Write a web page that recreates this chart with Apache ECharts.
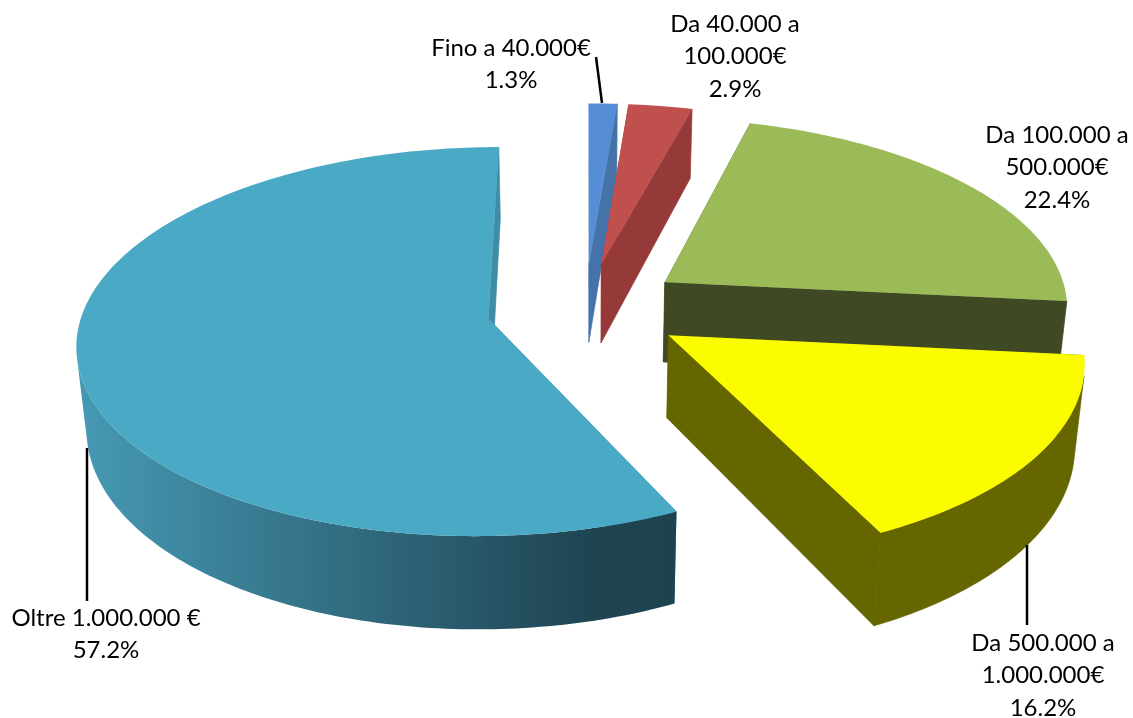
<!DOCTYPE html>
<html>
<head>
<meta charset="utf-8">
<title>Fasce di importo</title>
<style>
  html, body { margin: 0; padding: 0; background: #fff; }
  #main { width: 1133px; height: 718px; }
</style>
<script src="https://cdn.jsdelivr.net/npm/echarts@6/dist/echarts.min.js"></script>
</head>
<body>
<div id="main"></div>
<script>
  // valori, in senso orario da ore 12
  const categories = ['Fino a 40.000€', 'Da 40.000 a\n100.000€', 'Da 100.000 a\n500.000€', 'Da 500.000 a\n1.000.000€', 'Oltre 1.000.000 €']
  const shares = [1.3, 2.9, 22.4, 16.2, 57.2]

  const topColors = ['#558ed5', '#c0504d', '#9bbb59', '#fcfc00', '#4aa9c5']
  const wallColors = ['#4472a9', '#953a38', '#3f4a24', '#666600', '#3e8ca6']
  const explodes = [0.24, 0.24, 0.243, 0.247, 0.243]

  // posizione delle etichette [x centro, y prima riga], una per categoria
  const labelPos = [[511, 48], [735, 24], [1057, 135], [1043, 643], [106, 618]]
  const leaderLines = [[[596, 57], [602, 103]], [[1027, 545], [1027, 625]], [[87, 448], [87, 601]]]

  // proiezione prospettica del disco (raggio 1)
  const view = { cx: 585, cy: 308, a: 405, b: 189.3, depth: 82.7, depthZ: 5, persp: 0.1186, shrink: 0.02 }

  function project (x, z, h) {
    let s = 1 / (1 - view.persp * z + view.shrink * h)
    let depth = (view.depth + view.depthZ * z) * h
    return [view.cx + view.a * x * s, view.cy + (view.b * z + depth) * s]
  }

  const total = shares.reduce((sum, v) => sum + v, 0)

  function startAngle (index) {
    let sum = 0
    for (let i = 0; i < index; i++) {
      sum += shares[i]
    }
    return sum / total * Math.PI * 2
  }

  function renderSlice (params, api) {
    let i = params.dataIndex
    let from = startAngle(i)
    let to = from + api.value(0) / total * Math.PI * 2
    let mid = (from + to) / 2
    let ox = explodes[i] * Math.sin(mid)
    let oz = -explodes[i] * Math.cos(mid)
    let steps = Math.max(2, Math.ceil((to - from) * 180 / Math.PI))
    let topArc = []
    let bottomArc = []
    for (let k = 0; k <= steps; k++) {
      let t = from + (to - from) * k / steps
      topArc.push(project(ox + Math.sin(t), oz - Math.cos(t), 0))
      bottomArc.push(project(ox + Math.sin(t), oz - Math.cos(t), 1))
    }
    let apexTop = project(ox, oz, 0)
    let apexBottom = project(ox, oz, 1)
    let children = []
    let wallStyle = { fill: wallColors[i], stroke: wallColors[i], lineWidth: 0.7 }

    // pareti radiali: quella iniziale resta dietro la faccia superiore
    children.push({
      type: 'polygon',
      shape: { points: [apexTop, topArc[0], bottomArc[0], apexBottom] },
      style: { fill: wallColors[i] }
    })
    children.push({
      type: 'polygon',
      shape: { points: [apexTop, topArc[steps], bottomArc[steps], apexBottom] },
      style: wallStyle
    })

    // parete esterna, solo il tratto rivolto verso chi guarda
    let frontTop = []
    let frontBottom = []
    for (let k = 0; k < steps; k++) {
      let dx = topArc[k + 1][0] - topArc[k][0]
      let dy = topArc[k + 1][1] - topArc[k][1]
      let wx = bottomArc[k][0] - topArc[k][0]
      let wy = bottomArc[k][1] - topArc[k][1]
      if (dx * wy - dy * wx < 0) {
        if (!frontTop.length) {
          frontTop.push(topArc[k])
          frontBottom.push(bottomArc[k])
        }
        frontTop.push(topArc[k + 1])
        frontBottom.push(bottomArc[k + 1])
      }
    }
    if (frontTop.length) {
      let style = wallStyle
      if (i === shares.length - 1) {
        style = {
          fill: new echarts.graphic.LinearGradient(0, 0, 1, 0, [
            { offset: 0, color: '#4699b4' },
            { offset: 0.85, color: '#1f4553' },
            { offset: 1, color: '#1d4350' }
          ])
        }
      }
      children.push({
        type: 'polygon',
        shape: { points: frontTop.concat(frontBottom.slice().reverse()) },
        style: style
      })
    }

    // faccia superiore
    children.push({
      type: 'polygon',
      shape: { points: [apexTop].concat(topArc) },
      style: { fill: topColors[i] }
    })
    return { type: 'group', children: children }
  }

  let graphics = []
  leaderLines.forEach(line => {
    graphics.push({
      type: 'line',
      z: 10,
      shape: { x1: line[0][0], y1: line[0][1], x2: line[1][0], y2: line[1][1] },
      style: { stroke: '#000', lineWidth: 2.5 }
    })
  })
  categories.forEach((name, i) => {
    graphics.push({
      type: 'text',
      z: 11,
      x: labelPos[i][0],
      // la y in labelPos e' il centro della prima riga
      y: labelPos[i][1] - 16,
      style: {
        text: name + '\n' + shares[i].toFixed(1) + '%',
        fontFamily: 'Lato',
        fontSize: 24,
        lineHeight: 32.5,
        fill: '#000',
        align: 'center',
        verticalAlign: 'top'
      }
    })
  })

  let mychart = echarts.init(document.getElementById('main'), null, { renderer: 'canvas' })
  mychart.setOption({
    animation: false,
    backgroundColor: '#fff',
    graphic: graphics,
    series: [
      {
        type: 'custom',
        coordinateSystem: 'none',
        renderItem: renderSlice,
        silent: true,
        data: shares.map(v => [v])
      }
    ]
  })
</script>
</body>
</html>
